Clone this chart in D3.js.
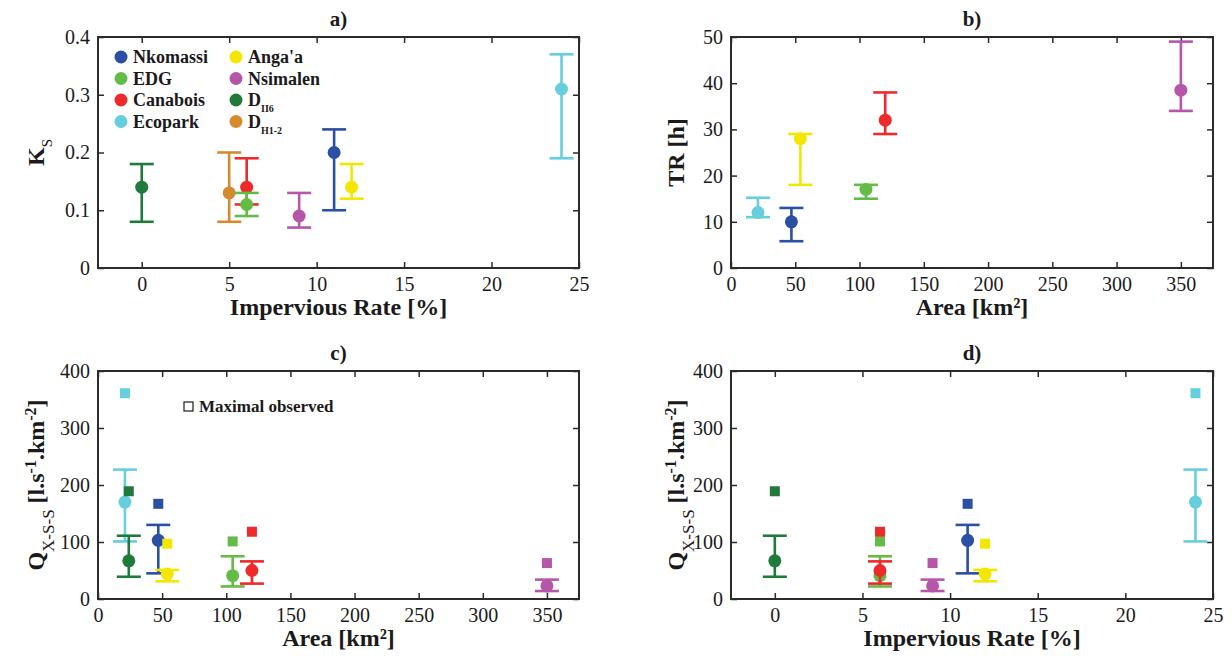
<!DOCTYPE html>
<html>
<head>
<meta charset="utf-8">
<script src="https://cdn.jsdelivr.net/npm/d3@7"></script>
<style>
  body { margin: 0; background: #fff; }
  svg { display: block; }
  text { font-family: "Liberation Serif", "Times New Roman", serif; fill: #1a1a1a; }
</style>
</head>
<body>
<svg id="chart" width="1232" height="666"></svg>
<script>
// ---------------- DATA ----------------
const sites   = ["Nkomassi", "EDG", "Canabois", "Ecopark", "Anga'a", "Nsimalen", "D_II6", "D_H1-2"];
const colors  = ["#2B4FA3", "#63BC46", "#EE2A2A", "#66CEDD", "#F3E600", "#B656A8", "#1F7A3C", "#D58B2D"];
const impervious = [11, 6, 6, 24, 12, 9, 0, 5];
const area       = [47, 105, 120, 21, 54, 350, 24, null];

const ks      = [0.20, 0.11, 0.14, 0.31, 0.14, 0.09, 0.14, 0.13];
const ksLow   = [0.10, 0.09, 0.11, 0.19, 0.12, 0.07, 0.08, 0.08];
const ksHigh  = [0.24, 0.13, 0.19, 0.37, 0.18, 0.13, 0.18, 0.20];

const tr      = [10, 17, 32, 12, 28, 38.5, null, null];
const trLow   = [5.8, 15, 29, 11, 18, 34, null, null];
const trHigh  = [13, 18, 38, 15.2, 29, 49, null, null];

const q       = [103, 41, 50, 170, 44, 23, 67, null];
const qLow    = [45, 22, 27, 101, 31, 14, 39, null];
const qHigh   = [130, 75, 66, 227, 51, 34, 111, null];
const qMax    = [167, 101, 118, 361, 97, 63, 189, null];

const ticksImpervious = [0, 5, 10, 15, 20, 25];
const ticksArea       = [0, 50, 100, 150, 200, 250, 300, 350];
const ticksKs         = [0, 0.1, 0.2, 0.3, 0.4];
const ticksTR         = [0, 10, 20, 30, 40, 50];
const ticksQ          = [0, 100, 200, 300, 400];

// --------------- LAYOUT ---------------
const svg = d3.select("#chart");
const axisColor = "#2b2b2b";

const panels = [
  { title: "a)", x0: 98,  x1: 579,  y0: 37,  y1: 268, xDom: [-2.5, 25], yDom: [0, 0.4], xT: ticksImpervious, yT: ticksKs,
    xv: impervious, yv: ks, lo: ksLow, hi: ksHigh, max: null, order: [6, 7, 2, 1, 5, 0, 4, 3],
    yfmt: d => d === 0 ? "0" : d3.format(".1f")(d), xlabel: "Impervious Rate [%]", ylabel: "K" },
  { title: "b)", x0: 731, x1: 1213, y0: 37,  y1: 268, xDom: [0, 375], yDom: [0, 50], xT: ticksArea, yT: ticksTR,
    xv: area, yv: tr, lo: trLow, hi: trHigh, max: null, order: [3, 0, 4, 1, 2, 5],
    yfmt: d3.format("d"), xlabel: "Area [km²]", ylabel: "TR" },
  { title: "c)", x0: 98,  x1: 579,  y0: 371, y1: 599, xDom: [0, 375], yDom: [0, 400], xT: ticksArea, yT: ticksQ,
    xv: area, yv: q, lo: qLow, hi: qHigh, max: qMax, order: [3, 6, 0, 4, 1, 2, 5],
    yfmt: d3.format("d"), xlabel: "Area [km²]", ylabel: "Q" },
  { title: "d)", x0: 731, x1: 1213, y0: 371, y1: 599, xDom: [-2.5, 25], yDom: [0, 400], xT: ticksImpervious, yT: ticksQ,
    xv: impervious, yv: q, lo: qLow, hi: qHigh, max: qMax, order: [6, 1, 2, 5, 0, 4, 3],
    yfmt: d3.format("d"), xlabel: "Impervious Rate [%]", ylabel: "Q" }
];

const capHalf = 12, dotR = 6.5, sq = 10;

panels.forEach(p => {
  const x = d3.scaleLinear().domain(p.xDom).range([p.x0, p.x1]);
  const y = d3.scaleLinear().domain(p.yDom).range([p.y1, p.y0]);
  const g = svg.append("g");

  // axes (ticks inward, mirrored)
  const styleAxis = sel => {
    sel.attr("font-family", null).attr("font-size", null);
    sel.select(".domain").remove();
    sel.selectAll(".tick line").attr("stroke", axisColor).attr("stroke-width", 1.5);
    sel.selectAll(".tick text").style("font-size", "20px").attr("fill", "#1a1a1a");
  };
  g.append("g").attr("transform", `translate(0,${p.y1})`)
    .call(d3.axisBottom(x).tickValues(p.xT).tickSize(-6).tickPadding(9).tickFormat(d3.format("d")))
    .call(styleAxis);
  g.append("g").attr("transform", `translate(0,${p.y0})`)
    .call(d3.axisTop(x).tickValues(p.xT).tickSize(-6).tickFormat(""))
    .call(styleAxis);
  g.append("g").attr("transform", `translate(${p.x0},0)`)
    .call(d3.axisLeft(y).tickValues(p.yT).tickSize(-6).tickPadding(8).tickFormat(p.yfmt))
    .call(styleAxis);
  g.append("g").attr("transform", `translate(${p.x1},0)`)
    .call(d3.axisRight(y).tickValues(p.yT).tickSize(-6).tickFormat(""))
    .call(styleAxis);
  g.append("rect").attr("x", p.x0).attr("y", p.y0).attr("width", p.x1 - p.x0).attr("height", p.y1 - p.y0)
    .attr("fill", "none").attr("stroke", axisColor).attr("stroke-width", 2);

  // error bars + dots
  p.order.forEach(i => {
    if (p.xv[i] == null || p.yv[i] == null) return;
    const cx = x(p.xv[i]);
    const eg = g.append("g").attr("stroke", colors[i]).attr("stroke-width", 2.6);
    eg.append("line").attr("x1", cx).attr("x2", cx).attr("y1", y(p.lo[i])).attr("y2", y(p.hi[i]));
    eg.append("line").attr("x1", cx - capHalf).attr("x2", cx + capHalf).attr("y1", y(p.lo[i])).attr("y2", y(p.lo[i]));
    eg.append("line").attr("x1", cx - capHalf).attr("x2", cx + capHalf).attr("y1", y(p.hi[i])).attr("y2", y(p.hi[i]));
    g.append("circle").attr("cx", cx).attr("cy", y(p.yv[i])).attr("r", dotR).attr("fill", colors[i]);
  });
  if (p.max) {
    p.order.forEach(i => {
      if (p.xv[i] == null || p.max[i] == null) return;
      g.append("rect").attr("x", x(p.xv[i]) - sq / 2).attr("y", y(p.max[i]) - sq / 2)
        .attr("width", sq).attr("height", sq).attr("fill", colors[i]);
    });
  }

  // title
  g.append("text").attr("x", (p.x0 + p.x1) / 2).attr("y", p.y0 - 11).attr("text-anchor", "middle")
    .style("font-size", "21px").style("font-weight", "bold").text(p.title);
  // x label
  g.append("text").attr("x", (p.x0 + p.x1) / 2).attr("y", p.y1 + 47).attr("text-anchor", "middle")
    .style("font-size", "24px").style("font-weight", "bold").text(p.xlabel);
  // y label
  const lx = p.x0 < 300 ? p.x0 - 54 : p.x0 - 47;
  const yl = g.append("text").attr("transform", `translate(${lx},${(p.y0 + p.y1) / 2}) rotate(-90)`)
    .attr("text-anchor", "middle").style("font-weight", "bold").style("font-size", "24px");
  if (p.ylabel === "K") {
    yl.append("tspan").text("K");
    yl.append("tspan").attr("baseline-shift", "sub").style("font-size", "15px").style("font-weight", "normal").text("S");
  } else if (p.ylabel === "TR") {
    yl.text("TR [h]");
  } else {
    yl.append("tspan").text("Q");
    yl.append("tspan").attr("baseline-shift", "sub").style("font-size", "17px").style("font-weight", "normal").text("X-S-S");
    yl.append("tspan").text(" [l.s");
    yl.append("tspan").attr("baseline-shift", "super").style("font-size", "16px").text("-1");
    yl.append("tspan").text(".km");
    yl.append("tspan").attr("baseline-shift", "super").style("font-size", "16px").text("-2");
    yl.append("tspan").text("]");
  }
});

// legend in panel a
const legX = [121, 236], legTextDx = 12, legY0 = 57, legDy = 21.5;
sites.forEach((s, i) => {
  const col = Math.floor(i / 4), row = i % 4;
  const lx = legX[col], ly = legY0 + row * legDy;
  svg.append("circle").attr("cx", lx).attr("cy", ly).attr("r", 6.5).attr("fill", colors[i]);
  const t = svg.append("text").attr("x", lx + legTextDx).attr("y", ly + 6)
    .style("font-size", "18px").style("font-weight", "bold");
  if (s.startsWith("D_")) {
    t.append("tspan").text("D");
    t.append("tspan").attr("baseline-shift", "sub").style("font-size", "10px").text(s.slice(2));
  } else {
    t.text(s);
  }
});

// "Maximal observed" legend in panel c
svg.append("rect").attr("x", 184).attr("y", 402).attr("width", 9).attr("height", 9)
  .attr("fill", "none").attr("stroke", "#1a1a1a").attr("stroke-width", 1.2);
svg.append("text").attr("x", 199).attr("y", 412).style("font-size", "17px").style("font-weight", "bold")
  .text("Maximal observed");
</script>
</body>
</html>
